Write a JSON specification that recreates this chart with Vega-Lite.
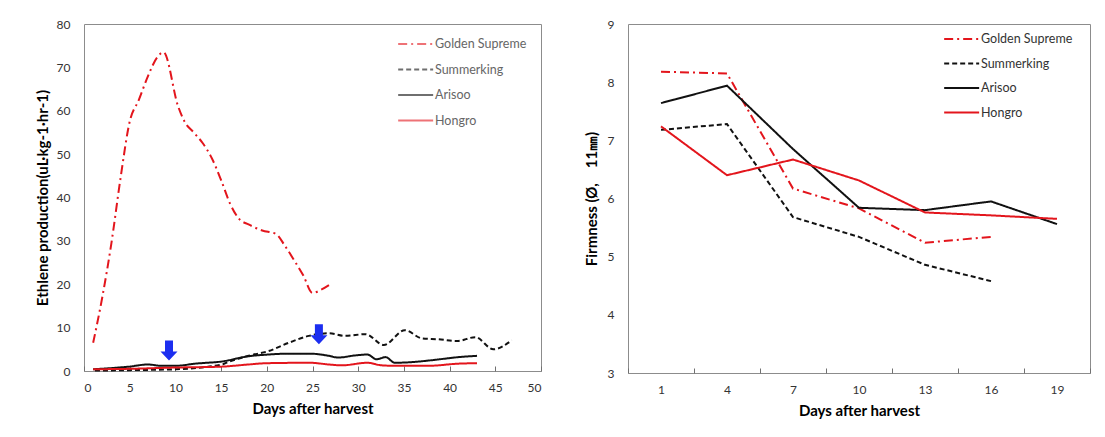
{
  "$schema": "https://vega.github.io/schema/vega-lite/v6.json",
  "padding": {"left": 34, "top": 17, "right": 5, "bottom": 5},
  "background": "white",
  "datasets": {
    "ethylene": [
      {"day": 1, "value": 6.5, "cultivar": "Golden Supreme"},
      {"day": 2, "value": 17, "cultivar": "Golden Supreme"},
      {"day": 3, "value": 29.5, "cultivar": "Golden Supreme"},
      {"day": 4, "value": 44.5, "cultivar": "Golden Supreme"},
      {"day": 5, "value": 57.5, "cultivar": "Golden Supreme"},
      {"day": 6, "value": 62.5, "cultivar": "Golden Supreme"},
      {"day": 7, "value": 68, "cultivar": "Golden Supreme"},
      {"day": 8, "value": 72.3, "cultivar": "Golden Supreme"},
      {"day": 8.7, "value": 73.5, "cultivar": "Golden Supreme"},
      {"day": 10.3, "value": 61, "cultivar": "Golden Supreme"},
      {"day": 11, "value": 57.5, "cultivar": "Golden Supreme"},
      {"day": 12, "value": 55, "cultivar": "Golden Supreme"},
      {"day": 13, "value": 52.5, "cultivar": "Golden Supreme"},
      {"day": 14, "value": 49, "cultivar": "Golden Supreme"},
      {"day": 15, "value": 44, "cultivar": "Golden Supreme"},
      {"day": 16, "value": 38.5, "cultivar": "Golden Supreme"},
      {"day": 17, "value": 35, "cultivar": "Golden Supreme"},
      {"day": 18, "value": 33.8, "cultivar": "Golden Supreme"},
      {"day": 19.5, "value": 32.4, "cultivar": "Golden Supreme"},
      {"day": 21, "value": 31.6, "cultivar": "Golden Supreme"},
      {"day": 22, "value": 28.8, "cultivar": "Golden Supreme"},
      {"day": 23, "value": 25.5, "cultivar": "Golden Supreme"},
      {"day": 24, "value": 22, "cultivar": "Golden Supreme"},
      {"day": 25, "value": 18, "cultivar": "Golden Supreme"},
      {"day": 26, "value": 18.8, "cultivar": "Golden Supreme"},
      {"day": 26.8, "value": 19.8, "cultivar": "Golden Supreme"},

      {"day": 1.2, "value": 0.1, "cultivar": "Summerking"},
      {"day": 4.9, "value": 0.2, "cultivar": "Summerking"},
      {"day": 10, "value": 0.4, "cultivar": "Summerking"},
      {"day": 15.1, "value": 1.5, "cultivar": "Summerking"},
      {"day": 15.8, "value": 2.1, "cultivar": "Summerking"},
      {"day": 18, "value": 3.5, "cultivar": "Summerking"},
      {"day": 20.2, "value": 4.6, "cultivar": "Summerking"},
      {"day": 22.4, "value": 6.5, "cultivar": "Summerking"},
      {"day": 24.6, "value": 8.1, "cultivar": "Summerking"},
      {"day": 26.8, "value": 8.7, "cultivar": "Summerking"},
      {"day": 28.6, "value": 8.1, "cultivar": "Summerking"},
      {"day": 30.8, "value": 8.5, "cultivar": "Summerking"},
      {"day": 32.8, "value": 6, "cultivar": "Summerking"},
      {"day": 35.1, "value": 9.4, "cultivar": "Summerking"},
      {"day": 37, "value": 7.5, "cultivar": "Summerking"},
      {"day": 38.8, "value": 7.3, "cultivar": "Summerking"},
      {"day": 40.8, "value": 6.9, "cultivar": "Summerking"},
      {"day": 42.8, "value": 7.8, "cultivar": "Summerking"},
      {"day": 44.8, "value": 5, "cultivar": "Summerking"},
      {"day": 46.8, "value": 7.1, "cultivar": "Summerking"},

      {"day": 1, "value": 0.4, "cultivar": "Arisoo"},
      {"day": 4.9, "value": 1, "cultivar": "Arisoo"},
      {"day": 7, "value": 1.5, "cultivar": "Arisoo"},
      {"day": 8.5, "value": 1.2, "cultivar": "Arisoo"},
      {"day": 10, "value": 1.2, "cultivar": "Arisoo"},
      {"day": 12.2, "value": 1.7, "cultivar": "Arisoo"},
      {"day": 15.1, "value": 2.2, "cultivar": "Arisoo"},
      {"day": 18, "value": 3.4, "cultivar": "Arisoo"},
      {"day": 20.2, "value": 3.8, "cultivar": "Arisoo"},
      {"day": 22.4, "value": 4, "cultivar": "Arisoo"},
      {"day": 24.7, "value": 4, "cultivar": "Arisoo"},
      {"day": 26.8, "value": 3.5, "cultivar": "Arisoo"},
      {"day": 27.8, "value": 3.1, "cultivar": "Arisoo"},
      {"day": 29.7, "value": 3.6, "cultivar": "Arisoo"},
      {"day": 31, "value": 3.8, "cultivar": "Arisoo"},
      {"day": 32, "value": 2.7, "cultivar": "Arisoo"},
      {"day": 33, "value": 3.2, "cultivar": "Arisoo"},
      {"day": 34, "value": 1.9, "cultivar": "Arisoo"},
      {"day": 36.2, "value": 2.1, "cultivar": "Arisoo"},
      {"day": 38.1, "value": 2.5, "cultivar": "Arisoo"},
      {"day": 41, "value": 3.2, "cultivar": "Arisoo"},
      {"day": 43, "value": 3.5, "cultivar": "Arisoo"},

      {"day": 1, "value": 0.4, "cultivar": "Hongro"},
      {"day": 4.9, "value": 0.5, "cultivar": "Hongro"},
      {"day": 10, "value": 0.8, "cultivar": "Hongro"},
      {"day": 15, "value": 1, "cultivar": "Hongro"},
      {"day": 18, "value": 1.5, "cultivar": "Hongro"},
      {"day": 20, "value": 1.8, "cultivar": "Hongro"},
      {"day": 24.7, "value": 1.9, "cultivar": "Hongro"},
      {"day": 26.8, "value": 1.5, "cultivar": "Hongro"},
      {"day": 28.2, "value": 1.3, "cultivar": "Hongro"},
      {"day": 31, "value": 1.9, "cultivar": "Hongro"},
      {"day": 32.6, "value": 1.3, "cultivar": "Hongro"},
      {"day": 34, "value": 1.2, "cultivar": "Hongro"},
      {"day": 37.7, "value": 1.2, "cultivar": "Hongro"},
      {"day": 41, "value": 1.7, "cultivar": "Hongro"},
      {"day": 43, "value": 1.8, "cultivar": "Hongro"}
    ],
    "arrows": [
      {"day": 9.3, "value": 4.7},
      {"day": 25.7, "value": 8.5}
    ],
    "firmness": [
      {"day": 1, "value": 8.18, "cultivar": "Golden Supreme"},
      {"day": 4, "value": 8.15, "cultivar": "Golden Supreme"},
      {"day": 7, "value": 6.17, "cultivar": "Golden Supreme"},
      {"day": 10, "value": 5.83, "cultivar": "Golden Supreme"},
      {"day": 13, "value": 5.24, "cultivar": "Golden Supreme"},
      {"day": 16, "value": 5.34, "cultivar": "Golden Supreme"},
      {"day": 1, "value": 7.18, "cultivar": "Summerking"},
      {"day": 4, "value": 7.28, "cultivar": "Summerking"},
      {"day": 7, "value": 5.68, "cultivar": "Summerking"},
      {"day": 10, "value": 5.34, "cultivar": "Summerking"},
      {"day": 13, "value": 4.86, "cultivar": "Summerking"},
      {"day": 16, "value": 4.58, "cultivar": "Summerking"},
      {"day": 1, "value": 7.64, "cultivar": "Arisoo"},
      {"day": 4, "value": 7.94, "cultivar": "Arisoo"},
      {"day": 7, "value": 6.85, "cultivar": "Arisoo"},
      {"day": 10, "value": 5.84, "cultivar": "Arisoo"},
      {"day": 13, "value": 5.8, "cultivar": "Arisoo"},
      {"day": 16, "value": 5.95, "cultivar": "Arisoo"},
      {"day": 19, "value": 5.56, "cultivar": "Arisoo"},
      {"day": 1, "value": 7.24, "cultivar": "Hongro"},
      {"day": 4, "value": 6.4, "cultivar": "Hongro"},
      {"day": 7, "value": 6.67, "cultivar": "Hongro"},
      {"day": 10, "value": 6.31, "cultivar": "Hongro"},
      {"day": 13, "value": 5.76, "cultivar": "Hongro"},
      {"day": 16, "value": 5.71, "cultivar": "Hongro"},
      {"day": 19, "value": 5.65, "cultivar": "Hongro"}
    ]
  },
  "hconcat": [
    {
      "width": 457,
      "height": 347,
      "layer": [
        {
          "data": {"name": "ethylene"},
          "mark": {"type": "line", "interpolate": "monotone", "strokeWidth": 2},
          "encoding": {
            "x": {
              "field": "day", "type": "quantitative",
              "scale": {"domain": [0, 50], "nice": false},
              "axis": {"values": [0, 5, 10, 15, 20, 25, 30, 35, 40, 45, 50], "title": "Days after harvest", "tickSize": -5, "labelPadding": 16, "titlePadding": 8}
            },
            "y": {
              "field": "value", "type": "quantitative",
              "scale": {"domain": [0, 80], "nice": false},
              "axis": {"values": [0, 10, 20, 30, 40, 50, 60, 70, 80], "title": "Ethlene production(uL·kg-1·hr-1)", "ticks": false, "labelPadding": 14, "titlePadding": 6}
            },
            "color": {
              "field": "cultivar", "type": "nominal",
              "scale": {"domain": ["Golden Supreme", "Summerking", "Arisoo", "Hongro"], "range": ["#e3151c", "#111111", "#111111", "#e3151c"]},
              "legend": {"orient": "none", "legendX": 313, "legendY": 13, "title": null, "symbolType": "M-1,0H5", "symbolSize": 136, "symbolStrokeWidth": 2, "labelFont": "Lato", "labelFontSize": 12.5, "labelColor": "#666666", "rowPadding": 11.5, "padding": 0, "labelOffset": 24, "symbolOpacity": 0.6}
            },
            "strokeDash": {
              "field": "cultivar", "type": "nominal",
              "scale": {"domain": ["Golden Supreme", "Summerking", "Arisoo", "Hongro"], "range": [[9, 4, 2, 4], [5, 3], [1, 0], [1, 0]]},
              "legend": {"orient": "none", "legendX": 313, "legendY": 13, "title": null, "symbolType": "M-1,0H5", "symbolSize": 136, "symbolStrokeWidth": 2, "labelFont": "Lato", "labelFontSize": 12.5, "labelColor": "#666666", "rowPadding": 11.5, "padding": 0, "labelOffset": 24, "symbolOpacity": 0.6}
            }
          }
        },
        {
          "data": {"name": "arrows"},
          "mark": {"type": "point", "shape": "M-0.4,-1L0.4,-1L0.4,0.1L0.85,0.1L0,1L-0.85,0.1L-0.4,0.1Z", "filled": true, "size": 400, "color": "#1c2ef0", "opacity": 1, "strokeWidth": 0},
          "encoding": {
            "x": {"field": "day", "type": "quantitative"},
            "y": {"field": "value", "type": "quantitative"}
          }
        }
      ]
    },
    {
      "width": 462,
      "height": 349,
      "data": {"name": "firmness"},
      "mark": {"type": "line", "strokeWidth": 2},
      "encoding": {
        "x": {
          "field": "day", "type": "ordinal",
          "scale": {"type": "band", "domain": [1, 4, 7, 10, 13, 16, 19], "paddingInner": 0, "paddingOuter": 0},
          "axis": {"labelAngle": 0, "tickBand": "extent", "title": "Days after harvest", "tickSize": -5, "labelPadding": 16, "titlePadding": 8}
        },
        "y": {
          "field": "value", "type": "quantitative",
          "scale": {"domain": [3, 9], "nice": false},
          "axis": {"values": [3, 4, 5, 6, 7, 8, 9], "title": "Firmness (Ø,\u300011㎜)", "ticks": false, "labelPadding": 14, "titlePadding": 8}
        },
        "color": {
          "field": "cultivar", "type": "nominal",
          "scale": {"domain": ["Golden Supreme", "Summerking", "Arisoo", "Hongro"], "range": ["#e3151c", "#111111", "#111111", "#e3151c"]},
          "legend": {"orient": "none", "legendX": 315, "legendY": 8, "title": null, "symbolType": "M-1,0H5", "symbolSize": 136, "symbolStrokeWidth": 2, "labelFont": "Lato", "labelFontSize": 12.5, "labelColor": "#333333", "rowPadding": 10.5, "padding": 0, "labelOffset": 24}
        },
        "strokeDash": {
          "field": "cultivar", "type": "nominal",
          "scale": {"domain": ["Golden Supreme", "Summerking", "Arisoo", "Hongro"], "range": [[9, 4, 2, 4], [5, 3], [1, 0], [1, 0]]},
          "legend": {"orient": "none", "legendX": 315, "legendY": 8, "title": null, "symbolType": "M-1,0H5", "symbolSize": 136, "symbolStrokeWidth": 2, "labelFont": "Lato", "labelFontSize": 12.5, "labelColor": "#333333", "rowPadding": 10.5, "padding": 0, "labelOffset": 24}
        }
      }
    }
  ],
  "spacing": 87,
  "bounds": "flush",
  "resolve": {"scale": {"color": "independent", "strokeDash": "independent", "x": "independent", "y": "independent"}},
  "config": {
    "font": "Lato",
    "view": {"stroke": "#8c8c8c", "strokeWidth": 1},
    "axis": {
      "domain": false, "grid": false,
      "labelFont": "Lato", "labelFontSize": 12, "labelColor": "#333333",
      "titleFont": "Lato", "titleFontSize": 15, "titleFontWeight": "bold", "titleColor": "#000000",
      "tickColor": "#707070", "tickWidth": 1
    }
  }
}
